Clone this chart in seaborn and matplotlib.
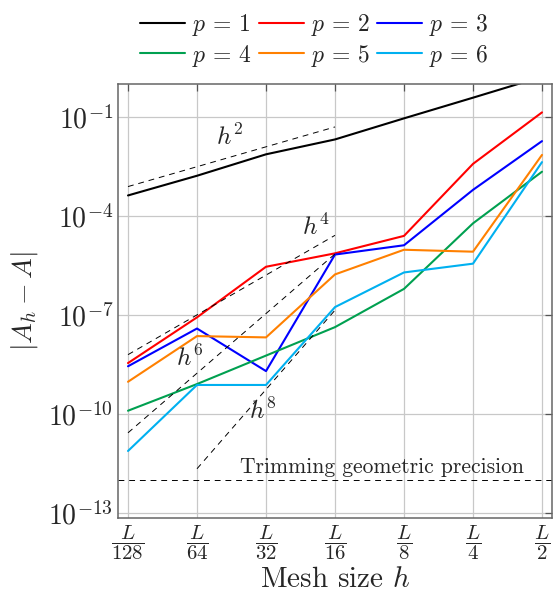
import numpy as np
import pandas as pd
import matplotlib
matplotlib.use("Agg")
import matplotlib.pyplot as plt
import seaborn as sns
from matplotlib.ticker import FixedLocator, FixedFormatter, NullLocator

# ---------------- data ----------------
h_vals = [1/128, 1/64, 1/32, 1/16, 1/8, 1/4, 1/2]
x_labels = [r"$\dfrac{L}{128}$", r"$\dfrac{L}{64}$", r"$\dfrac{L}{32}$", r"$\dfrac{L}{16}$",
            r"$\dfrac{L}{8}$", r"$\dfrac{L}{4}$", r"$\dfrac{L}{2}$"]
err_p1 = [4.2e-4, 1.66e-3, 7.4e-3, 2.09e-2, 9.1e-2, 0.385, 1.66]
err_p2 = [3.5e-9, 8.5e-8, 2.9e-6, 7.4e-6, 2.5e-5, 3.8e-3, 0.138]
err_p3 = [2.8e-9, 3.9e-8, 2.0e-9, 6.8e-6, 1.3e-5, 6.2e-4, 1.86e-2]
err_p4 = [1.26e-10, 8.1e-10, 5.9e-9, 4.3e-8, 6.2e-7, 6.0e-5, 2.2e-3]
err_p5 = [9.5e-10, 2.3e-8, 2.1e-8, 1.7e-6, 9.5e-6, 8.3e-6, 7.1e-3]
err_p6 = [7.6e-12, 7.6e-10, 7.6e-10, 1.74e-7, 1.95e-6, 3.6e-6, 4.3e-3]
degrees = [1, 2, 3, 4, 5, 6]
series_colors = ["#000000", "#ff0000", "#0000ff", "#00a050", "#ff8000", "#00b0f0"]

# reference slopes (endpoints)
ref_h2_x = [1/128, 1/16]; ref_h2_y = [7.8e-4, 5.0e-2]
ref_h4_x = [1/128, 1/16]; ref_h4_y = [6.3e-9, 2.6e-5]
ref_h6_x = [1/128, 1/16]; ref_h6_y = [2.7e-11, 7.1e-6]
ref_h8_x = [1/64, 1/16];  ref_h8_y = [2.2e-12, 1.4e-7]
trim_level = 1e-12

y_ticks = [1e-13, 1e-10, 1e-7, 1e-4, 1e-1]
y_tick_labels = [r"$10^{-13}$", r"$10^{-10}$", r"$10^{-7}$", r"$10^{-4}$", r"$10^{-1}$"]

# ---------------- style ----------------
sns.set_style("white")
plt.rcParams["font.family"] = ["cmr10", "DejaVu Serif"]
plt.rcParams["mathtext.fontset"] = "cm"
plt.rcParams["axes.unicode_minus"] = False
plt.rcParams["axes.formatter.use_mathtext"] = True

all_err = [err_p1, err_p2, err_p3, err_p4, err_p5, err_p6]
rows = []
for p, errs in zip(degrees, all_err):
    for h, e in zip(h_vals, errs):
        rows.append({"h": h, "err": e, "p": p})
df = pd.DataFrame(rows)

fig = plt.figure(figsize=(5.53, 5.92), dpi=100)
ax = fig.add_axes([118/553, 1 - 518/592, (552-118)/553, (518-84)/592])

sns.lineplot(data=df, x="h", y="err", hue="p", palette=series_colors,
             linewidth=1.5, ax=ax, legend=False)
ax.set_xscale("log", base=2)
ax.set_yscale("log")

dash_kw = dict(color="black", lw=0.7, dashes=(6, 5))
ax.plot(ref_h2_x, ref_h2_y, **dash_kw)
ax.plot(ref_h4_x, ref_h4_y, **dash_kw)
ax.plot(ref_h6_x, ref_h6_y, **dash_kw)
ax.plot(ref_h8_x, ref_h8_y, **dash_kw)
ax.axhline(trim_level, **dash_kw)

ann_fs = 18
ax.text(2**-5.52, 10**-1.60, r"$h^2$", fontsize=ann_fs, ha="center", va="center")
ax.text(2**-4.27, 10**-4.33, r"$h^4$", fontsize=ann_fs, ha="center", va="center")
ax.text(2**-6.1, 10**-8.3, r"$h^6$", fontsize=ann_fs, ha="center", va="center")
ax.text(2**-5.05, 10**-9.9, r"$h^8$", fontsize=ann_fs, ha="center", va="center")
ax.text(2**-3.32, 10**-11.62, "Trimming geometric precision", fontsize=15.5,
        ha="center", va="center")

ax.set_xlim(2**-7.145, 2**-0.855)
ax.set_ylim(10**-13.15, 1.0)
ax.xaxis.set_major_locator(FixedLocator(h_vals))
ax.xaxis.set_major_formatter(FixedFormatter(x_labels))
ax.xaxis.set_minor_locator(NullLocator())
ax.yaxis.set_major_locator(FixedLocator(y_ticks))
ax.yaxis.set_major_formatter(FixedFormatter(y_tick_labels))
ax.yaxis.set_minor_locator(NullLocator())

ax.grid(True, color="#c8c8c8", lw=0.9)
ax.set_axisbelow(True)
ax.tick_params(axis="both", direction="in", length=5, width=0.9, color="#555555",
               top=True, right=True, labelsize=20)
ax.tick_params(axis="x", labelsize=15, pad=4)
for s in ax.spines.values():
    s.set_color("#666666")
    s.set_linewidth(1.1)

ax.set_xlabel(r"Mesh size $h$", fontsize=21, va="center")
ax.xaxis.set_label_coords(0.5, (518 - 580) / 434)
ax.set_ylabel(r"$|A_h - A|$", fontsize=20, va="center")
ax.yaxis.set_label_coords((25 - 118) / 434, 0.5)

handles = [plt.Line2D([], [], color=c, lw=1.5) for c in series_colors]
labels = [rf"$p$ = {p}" for p in degrees]
order = [0, 3, 1, 4, 2, 5]
fig.legend([handles[i] for i in order], [labels[i] for i in order], ncol=3,
           loc="center", bbox_to_anchor=(0.569, 0.932),
           frameon=False, fontsize=17, handlelength=1.9, handletextpad=0.3,
           columnspacing=0.3, labelspacing=0.2)

fig.savefig("out.png", dpi=100)
